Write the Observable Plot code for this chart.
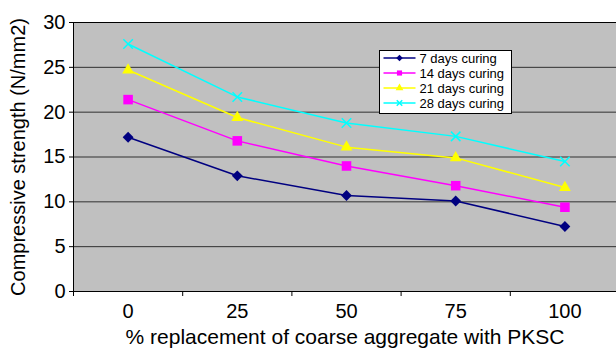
<!DOCTYPE html>
<html><head><meta charset="utf-8">
<script src="https://cdn.jsdelivr.net/npm/d3@7"></script>
<script src="https://cdn.jsdelivr.net/npm/@observablehq/plot@0.6"></script>
<style>
body{margin:0;background:#fff;}
#chart svg{font-family:Arial,"Liberation Sans",sans-serif;background:#fff;display:block;}
</style>
</head><body><div id="chart"></div>
<script>
const categories = ["0", "25", "50", "75", "100"];
const seriesNames = ["7 days curing", "14 days curing", "21 days curing", "28 days curing"];
const days7 = [17.2, 12.9, 10.7, 10.1, 7.25];
const days14 = [21.4, 16.8, 14.0, 11.8, 9.4];
const days21 = [24.7, 19.4, 16.1, 14.9, 11.6];
const days28 = [27.6, 21.7, 18.8, 17.3, 14.5];
const yTicks = [0, 5, 10, 15, 20, 25, 30];
const gridValues = [5, 10, 15, 20, 25];
const colors = ["#000080", "#FF00FF", "#FFFF00", "#00FFFF"];
const symbols = ["diamond2", "square", "triangle", "times"];
const yTitle = "Compressive strength (N/mm2)";
const xTitle = "% replacement of coarse aggregate with PKSC";

const seriesValues = [days7, days14, days21, days28];
const rows = seriesValues.flatMap((vals, k) =>
  vals.map((v, i) => ({series: seriesNames[k], i, value: v})));
const idx = categories.map((_, i) => i);
const boundaries = [...idx.map(i => i - 0.5), categories.length - 0.5];

const dotR = [4.9, 5.4, 4.4, 4.4];

const marks = [
  Plot.frame({fill: "#c0c0c0", stroke: null}),
  Plot.ruleY(gridValues, {stroke: "#303030", strokeWidth: 1}),
  Plot.ruleY([30], {stroke: "#000", strokeWidth: 1}),
  Plot.ruleY([0], {stroke: "#000", strokeWidth: 1}),
  Plot.ruleX([boundaries[0]], {stroke: "#000", strokeWidth: 1}),
  Plot.axisY(yTicks, {tickSize: 4, tickPadding: 4, fontSize: 20, color: "#000", label: null}),
  Plot.axisY({ticks: [], tickSize: 0, fontSize: 20, color: "#000",
    label: yTitle, labelAnchor: "center", labelOffset: 63, labelArrow: "none"}),
  Plot.axisX(boundaries, {tickSize: 5, tickFormat: () => "", label: null, color: "#000"}),
  Plot.axisX(idx, {tickSize: 0, tickPadding: 12, fontSize: 20, color: "#000",
    tickFormat: i => categories[i], label: null}),
  Plot.axisX({ticks: [], tickSize: 0, fontSize: 21, color: "#000",
    label: xTitle, labelAnchor: "center", labelOffset: 52, labelArrow: "none"}),
  Plot.line(rows, {x: "i", y: "value", z: "series", stroke: "series", strokeWidth: 1.5})
];
seriesNames.forEach((name, k) => {
  const data = rows.filter(d => d.series === name);
  if (symbols[k] === "times") {
    marks.push(Plot.dot(data, {x: "i", y: "value", symbol: () => symbols[k], stroke: "series", strokeWidth: 1.5, r: dotR[k]}));
  } else {
    marks.push(Plot.dot(data, {x: "i", y: "value", symbol: () => symbols[k], fill: "series", stroke: null, r: dotR[k]}));
  }
});

const chart = Plot.plot({
  width: 616,
  height: 358,
  marginLeft: 73,
  marginRight: 0,
  marginTop: 22,
  marginBottom: 67,
  x: {type: "linear", domain: [boundaries[0], boundaries[boundaries.length - 1]], range: [73, 619]},
  y: {domain: [0, 30]},
  color: {domain: seriesNames, range: colors},
  symbol: {domain: symbols, range: symbols},
  marks
});
document.getElementById("chart").appendChild(chart);

// legend inside the plot area
const svgEl = chart.tagName.toLowerCase() === "svg" ? chart : chart.querySelector("svg");
const svg = d3.select(svgEl);
const lg = svg.append("svg:g").attr("transform", "translate(379.5,50.5)").attr("text-anchor", "start");
lg.append("svg:rect").attr("x", 0).attr("y", 0).attr("width", 132).attr("height", 63)
  .style("fill", "#ffffff").style("stroke", "#000000").style("stroke-width", "1px");
const symTypes = {diamond2: d3.symbolDiamond2, square: d3.symbolSquare, triangle: d3.symbolTriangle, times: d3.symbolTimes};
const legR = [2.9, 2.9, 2.9, 2.6];
seriesNames.forEach((name, k) => {
  const y = 7.5 + 15 * k;
  const g = lg.append("svg:g").attr("transform", `translate(0,${y})`);
  g.append("svg:line").attr("x1", 4).attr("x2", 36).attr("y1", 0).attr("y2", 0)
    .style("stroke", colors[k]).style("stroke-width", "1.5px");
  const path = d3.symbol(symTypes[symbols[k]], Math.PI * legR[k] * legR[k])();
  const p = g.append("svg:path").attr("d", path).attr("transform", "translate(20,0)");
  if (symbols[k] === "times") p.style("fill", "none").style("stroke", colors[k]).style("stroke-width", "1.5px");
  else p.style("fill", colors[k]).style("stroke", "none");
  g.append("svg:text").attr("x", 40).attr("y", 0).attr("dy", "0.35em")
    .attr("text-anchor", "start").style("font-size", "13px").style("fill", "#000").text(name);
});
</script>
</body></html>
